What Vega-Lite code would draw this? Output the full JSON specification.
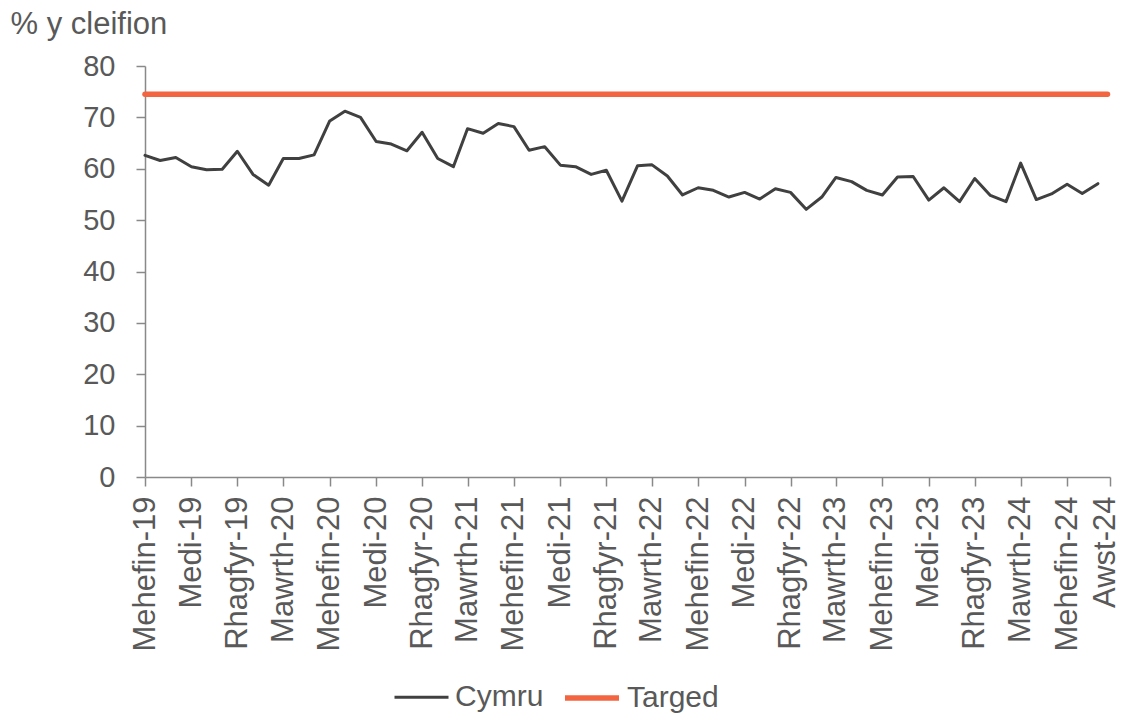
{
  "$schema": "https://vega.github.io/schema/vega-lite/v6.json",
  "width": 965,
  "height": 411,
  "autosize": {"type": "none"},
  "padding": {"left": 145, "top": 66, "right": 11, "bottom": 238},
  "config": {
    "view": {"stroke": null},
    "font": "Liberation Sans",
    "axis": {"grid": false}
  },
  "data": {
    "values": [
      {"date": "2019-06-01", "series": "Cymru", "value": 62.6},
      {"date": "2019-07-01", "series": "Cymru", "value": 61.6},
      {"date": "2019-08-01", "series": "Cymru", "value": 62.2},
      {"date": "2019-09-01", "series": "Cymru", "value": 60.4},
      {"date": "2019-10-01", "series": "Cymru", "value": 59.8},
      {"date": "2019-11-01", "series": "Cymru", "value": 59.9},
      {"date": "2019-12-01", "series": "Cymru", "value": 63.4},
      {"date": "2020-01-01", "series": "Cymru", "value": 58.9},
      {"date": "2020-02-01", "series": "Cymru", "value": 56.8},
      {"date": "2020-03-01", "series": "Cymru", "value": 62.0},
      {"date": "2020-04-01", "series": "Cymru", "value": 62.0},
      {"date": "2020-05-01", "series": "Cymru", "value": 62.7},
      {"date": "2020-06-01", "series": "Cymru", "value": 69.3},
      {"date": "2020-07-01", "series": "Cymru", "value": 71.2},
      {"date": "2020-08-01", "series": "Cymru", "value": 70.0},
      {"date": "2020-09-01", "series": "Cymru", "value": 65.3},
      {"date": "2020-10-01", "series": "Cymru", "value": 64.8},
      {"date": "2020-11-01", "series": "Cymru", "value": 63.5},
      {"date": "2020-12-01", "series": "Cymru", "value": 67.1},
      {"date": "2021-01-01", "series": "Cymru", "value": 62.0},
      {"date": "2021-02-01", "series": "Cymru", "value": 60.4},
      {"date": "2021-03-01", "series": "Cymru", "value": 67.8},
      {"date": "2021-04-01", "series": "Cymru", "value": 66.9},
      {"date": "2021-05-01", "series": "Cymru", "value": 68.8},
      {"date": "2021-06-01", "series": "Cymru", "value": 68.2},
      {"date": "2021-07-01", "series": "Cymru", "value": 63.6},
      {"date": "2021-08-01", "series": "Cymru", "value": 64.3},
      {"date": "2021-09-01", "series": "Cymru", "value": 60.7},
      {"date": "2021-10-01", "series": "Cymru", "value": 60.4},
      {"date": "2021-11-01", "series": "Cymru", "value": 58.9},
      {"date": "2021-12-01", "series": "Cymru", "value": 59.7},
      {"date": "2022-01-01", "series": "Cymru", "value": 53.7},
      {"date": "2022-02-01", "series": "Cymru", "value": 60.6},
      {"date": "2022-03-01", "series": "Cymru", "value": 60.8},
      {"date": "2022-04-01", "series": "Cymru", "value": 58.6},
      {"date": "2022-05-01", "series": "Cymru", "value": 54.9},
      {"date": "2022-06-01", "series": "Cymru", "value": 56.3},
      {"date": "2022-07-01", "series": "Cymru", "value": 55.8},
      {"date": "2022-08-01", "series": "Cymru", "value": 54.5},
      {"date": "2022-09-01", "series": "Cymru", "value": 55.4},
      {"date": "2022-10-01", "series": "Cymru", "value": 54.1},
      {"date": "2022-11-01", "series": "Cymru", "value": 56.1},
      {"date": "2022-12-01", "series": "Cymru", "value": 55.4},
      {"date": "2023-01-01", "series": "Cymru", "value": 52.1},
      {"date": "2023-02-01", "series": "Cymru", "value": 54.5},
      {"date": "2023-03-01", "series": "Cymru", "value": 58.3},
      {"date": "2023-04-01", "series": "Cymru", "value": 57.5},
      {"date": "2023-05-01", "series": "Cymru", "value": 55.8},
      {"date": "2023-06-01", "series": "Cymru", "value": 54.9},
      {"date": "2023-07-01", "series": "Cymru", "value": 58.4},
      {"date": "2023-08-01", "series": "Cymru", "value": 58.5},
      {"date": "2023-09-01", "series": "Cymru", "value": 53.9},
      {"date": "2023-10-01", "series": "Cymru", "value": 56.3},
      {"date": "2023-11-01", "series": "Cymru", "value": 53.6},
      {"date": "2023-12-01", "series": "Cymru", "value": 58.1},
      {"date": "2024-01-01", "series": "Cymru", "value": 54.8},
      {"date": "2024-02-01", "series": "Cymru", "value": 53.6},
      {"date": "2024-03-01", "series": "Cymru", "value": 61.1},
      {"date": "2024-04-01", "series": "Cymru", "value": 54.0},
      {"date": "2024-05-01", "series": "Cymru", "value": 55.1},
      {"date": "2024-06-01", "series": "Cymru", "value": 57.0},
      {"date": "2024-07-01", "series": "Cymru", "value": 55.2},
      {"date": "2024-08-01", "series": "Cymru", "value": 57.1},
      {"date": "2019-06-01", "series": "Targed", "value": 74.5},
      {"date": "2024-08-20", "series": "Targed", "value": 74.5}
    ]
  },
  "mark": {"type": "line", "strokeJoin": "round", "strokeCap": "round"},
  "encoding": {
    "x": {
      "field": "date",
      "type": "temporal",
      "scale": {
        "type": "utc",
        "domain": [
          {"year": 2019, "month": 6, "date": 1, "utc": true},
          {"year": 2024, "month": 8, "date": 25, "utc": true}
        ]
      },
      "axis": {
        "title": null,
        "values": [
          {"year": 2019, "month": 6, "date": 1, "utc": true},
          {"year": 2019, "month": 9, "date": 1, "utc": true},
          {"year": 2019, "month": 12, "date": 1, "utc": true},
          {"year": 2020, "month": 3, "date": 1, "utc": true},
          {"year": 2020, "month": 6, "date": 1, "utc": true},
          {"year": 2020, "month": 9, "date": 1, "utc": true},
          {"year": 2020, "month": 12, "date": 1, "utc": true},
          {"year": 2021, "month": 3, "date": 1, "utc": true},
          {"year": 2021, "month": 6, "date": 1, "utc": true},
          {"year": 2021, "month": 9, "date": 1, "utc": true},
          {"year": 2021, "month": 12, "date": 1, "utc": true},
          {"year": 2022, "month": 3, "date": 1, "utc": true},
          {"year": 2022, "month": 6, "date": 1, "utc": true},
          {"year": 2022, "month": 9, "date": 1, "utc": true},
          {"year": 2022, "month": 12, "date": 1, "utc": true},
          {"year": 2023, "month": 3, "date": 1, "utc": true},
          {"year": 2023, "month": 6, "date": 1, "utc": true},
          {"year": 2023, "month": 9, "date": 1, "utc": true},
          {"year": 2023, "month": 12, "date": 1, "utc": true},
          {"year": 2024, "month": 3, "date": 1, "utc": true},
          {"year": 2024, "month": 6, "date": 1, "utc": true},
          {"year": 2024, "month": 8, "date": 25, "utc": true}
        ],
        "labelExpr": "['Ionawr','Chwefror','Mawrth','Ebrill','Mai','Mehefin','Gorffennaf','Awst','Medi','Hydref','Tachwedd','Rhagfyr'][utcmonth(datum.value)] + '-' + utcFormat(datum.value, '%y')",
        "labelAngle": -90,
        "labelFontSize": 31,
        "labelColor": "#595959",
        "labelPadding": 10,
        "labelOffset": {"condition": {"test": "datum.value > 1720000000000", "value": -5}, "value": 0},
        "labelOverlap": false,
        "labelFlush": false,
        "labelBound": false,
        "tickSize": 9,
        "tickColor": "#898989",
        "tickWidth": 1.5,
        "domainColor": "#898989",
        "domainWidth": 1.5
      }
    },
    "y": {
      "field": "value",
      "type": "quantitative",
      "scale": {"domain": [0, 80], "nice": false},
      "axis": {
        "title": "% y cleifion",
        "titleAngle": 0,
        "titleAlign": "left",
        "titleBaseline": "alphabetic",
        "titleX": -135,
        "titleY": -33,
        "titleFontSize": 31,
        "titleFontWeight": "normal",
        "titleColor": "#595959",
        "values": [0, 10, 20, 30, 40, 50, 60, 70, 80],
        "labelFontSize": 29,
        "labelColor": "#595959",
        "labelPadding": 21,
        "tickSize": 9,
        "tickColor": "#898989",
        "tickWidth": 1.5,
        "domainColor": "#898989",
        "domainWidth": 1.5
      }
    },
    "color": {
      "field": "series",
      "type": "nominal",
      "scale": {"domain": ["Cymru", "Targed"], "range": ["#404040", "#F26540"]},
      "legend": {
        "title": null,
        "orient": "none",
        "legendX": 248,
        "legendY": 602,
        "direction": "horizontal",
        "symbolType": "stroke",
        "symbolSize": 2916,
        "labelFontSize": 30,
        "labelColor": "#595959",
        "labelOffset": 5,
        "columnPadding": 10,
        "padding": 0
      }
    },
    "strokeWidth": {
      "field": "series",
      "type": "nominal",
      "scale": {"type": "ordinal", "domain": ["Cymru", "Targed"], "range": [3, 5.5]},
      "legend": {
        "title": null,
        "orient": "none",
        "legendX": 248,
        "legendY": 602,
        "direction": "horizontal",
        "symbolType": "stroke",
        "symbolSize": 2916,
        "labelFontSize": 30,
        "labelColor": "#595959",
        "labelOffset": 5,
        "columnPadding": 10,
        "padding": 0
      }
    }
  }
}
